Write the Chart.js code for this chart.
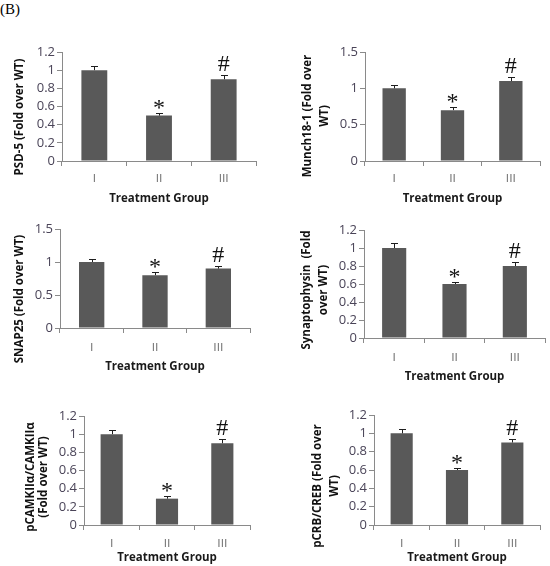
<!DOCTYPE html>
<html><head><meta charset="utf-8">
<script src="https://cdn.jsdelivr.net/npm/chart.js@4"></script>
<style>
html,body{margin:0;padding:0;background:#fff;}
#wrap{position:relative;width:550px;height:566px;overflow:hidden;background:#fff;}
#lbl{position:absolute;left:0;top:1px;font-family:'Liberation Serif';font-size:15px;color:#000;}
canvas{position:absolute;}
</style></head><body>
<div id="wrap"><div id="lbl">(B)</div></div>
<script>
// ---- data ----
const categories = ['I', 'II', 'III'];
const psd5 = [1.0, 0.5, 0.9];
const psd5Err = [0.05, 0.025, 0.045];
const munch18 = [1.0, 0.7, 1.1];
const munch18Err = [0.05, 0.04, 0.05];
const snap25 = [1.0, 0.8, 0.9];
const snap25Err = [0.05, 0.045, 0.04];
const synaptophysin = [1.0, 0.6, 0.8];
const synaptophysinErr = [0.05, 0.025, 0.045];
const pcamk = [1.0, 0.29, 0.9];
const pcamkErr = [0.045, 0.025, 0.045];
const pcreb = [1.0, 0.6, 0.9];
const pcrebErr = [0.045, 0.02, 0.04];
const markers = ['', '*', '#'];
const yTitles = [
  'PSD-5 (Fold over WT)',
  ['Munch18-1 (Fold over', 'WT)'],
  'SNAP25 (Fold over WT)',
  ['Synaptophysin  (Fold', 'over WT)'],
  ['pCAMKIIα/CAMKIIα', '(Fold over WT)'],
  ['pCRB/CREB (Fold over', 'WT)']
];
const yMax = [1.2, 1.5, 1.5, 1.2, 1.2, 1.2];
const yStep = [0.2, 0.5, 0.5, 0.2, 0.2, 0.2];
const xTitle = 'Treatment Group';
const values = [psd5, munch18, snap25, synaptophysin, pcamk, pcreb];
const errors = [psd5Err, munch18Err, snap25Err, synaptophysinErr, pcamkErr, pcrebErr];

// ---- layout (page pixels) ----
// cx,cy,cw,ch: canvas box; pl,pt,pr,pb: plot area; yt: centre x of first y-title line; yc: centre y of y-title;
// ylh: y-title line height; xl: category label centre y; xt: x-title centre y
const layout = [
  {cx:0,   cy:30,  cw:275, ch:180, pl:62,  pt:52,  pr:256, pb:161, yt:20,    yc:117, ylh:14.4, xl:178, xt:199},
  {cx:275, cy:30,  cw:275, ch:180, pl:365, pt:52,  pr:540, pb:161, yt:307.5, yc:116, ylh:17,   xl:178, xt:199},
  {cx:0,   cy:210, cw:275, ch:175, pl:60,  pt:229, pr:250, pb:328, yt:20,    yc:299, ylh:14.4, xl:347, xt:367},
  {cx:275, cy:210, cw:275, ch:180, pl:364, pt:230, pr:545, pb:338, yt:307,   yc:290, ylh:17,   xl:357, xt:377},
  {cx:0,   cy:390, cw:275, ch:176, pl:84,  pt:416, pr:250, pb:525, yt:31,    yc:477, ylh:13,   xl:543, xt:558},
  {cx:275, cy:390, cw:275, ch:176, pl:374, pt:415, pr:540, pb:525, yt:317.5, yc:486, ylh:17,   xl:543, xt:558}
];

const axisColor = '#8a8a8a';
const barColor = '#595959';

const errMarkPlugin = {
  id: 'errMarks',
  afterLayout(chart, args, opts) {
    // move the y-axis title along the axis to its place in the reference
    const s = chart.scales.y;
    if (s._origDrawTitle) return;
    s._origDrawTitle = s.drawTitle;
    s.drawTitle = function () {
      const t = this.top, b = this.bottom;
      const shift = opts.titleCenter - (t + b) / 2;
      this.top = t + shift; this.bottom = b + shift;
      this._origDrawTitle();
      this.top = t; this.bottom = b;
    };
  },
  afterDatasetsDraw(chart, args, opts) {
    const ctx = chart.ctx;
    const y = chart.scales.y;
    const meta = chart.getDatasetMeta(0);
    const data = chart.data.datasets[0].data;
    ctx.save();
    meta.data.forEach((bar, i) => {
      const v = data[i], e = opts.errors[i];
      const yTop = Math.round(y.getPixelForValue(v + e)) + 0.5;
      const yBase = y.getPixelForValue(v);
      const x = Math.round(bar.x) + 0.5;
      ctx.strokeStyle = '#1e1e1e';
      ctx.lineWidth = 1;
      ctx.beginPath();
      ctx.moveTo(x, yBase);
      ctx.lineTo(x, yTop);
      ctx.moveTo(x - 3.5, yTop);
      ctx.lineTo(x + 3.5, yTop);
      ctx.stroke();
      const m = opts.markers[i];
      if (m) {
        ctx.font = '24px "Liberation Serif"';
        ctx.fillStyle = '#111';
        ctx.textAlign = 'center';
        ctx.textBaseline = 'alphabetic';
        const mt = ctx.measureText(m);
        ctx.fillText(m, bar.x, yTop - 5 - mt.actualBoundingBoxDescent);
      }
    });
    ctx.restore();
  }
};

const wrap = document.getElementById('wrap');
const tickFont = {family: 'Open Sans', size: 13, lineHeight: 1};
const titleSize = 11.5;

layout.forEach((L, i) => {
  const c = document.createElement('canvas');
  c.width = L.cw; c.height = L.ch;
  c.style.left = L.cx + 'px'; c.style.top = L.cy + 'px';
  c.style.width = L.cw + 'px'; c.style.height = L.ch + 'px';
  wrap.appendChild(c);
  const labelLH = 12 * 1.2;
  const xTickLen = 5;
  const xTitleLH = titleSize * 1.2;
  new Chart(c, {
    type: 'bar',
    data: {
      labels: categories,
      datasets: [{
        data: values[i],
        backgroundColor: barColor,
        borderWidth: 0,
        categoryPercentage: 1,
        barPercentage: 0.4
      }]
    },
    options: {
      responsive: false,
      animation: false,
      devicePixelRatio: 1,
      layout: {padding: {left: 0, top: L.pt - L.cy, right: L.cx + L.cw - L.pr, bottom: 0}},
      plugins: {
        legend: {display: false},
        tooltip: {enabled: false},
        errMarks: {errors: errors[i], markers: markers, titleCenter: L.yc - L.cy}
      },
      scales: {
        x: {
          offset: true,
          grid: {display: true, drawOnChartArea: false, tickLength: xTickLen, color: axisColor, offset: true},
          border: {display: true, color: axisColor},
          ticks: {font: {family: 'Lato', size: 12}, color: '#808080', padding: Math.max(0, L.xl - L.pb - xTickLen - labelLH / 2)},
          title: {display: true, text: xTitle, font: {family: 'Open Sans', size: titleSize, weight: 'bold'}, color: '#1a1a1a',
                  padding: {top: 0, bottom: Math.max(0, L.cy + L.ch - L.xt - xTitleLH / 2)}},
          afterFit: s => { s.height = L.cy + L.ch - L.pb; }
        },
        y: {
          min: 0,
          max: yMax[i],
          ticks: {stepSize: yStep[i], autoSkip: false, font: tickFont, color: '#4a4458', padding: 2,
                  callback: v => String(Number(v.toFixed(1)))},
          grid: {display: true, drawOnChartArea: false, tickLength: 5, color: axisColor},
          border: {display: true, color: axisColor},
          title: {display: true, text: yTitles[i], color: '#111',
                  font: {family: 'Open Sans', size: titleSize, weight: 'bold', lineHeight: L.ylh / titleSize},
                  padding: {top: L.yt - L.cx - L.ylh / 2, bottom: 0}},
          afterFit: s => { s.width = L.pl - L.cx; }
        }
      }
    },
    plugins: [errMarkPlugin]
  });
});
</script>
</body></html>
